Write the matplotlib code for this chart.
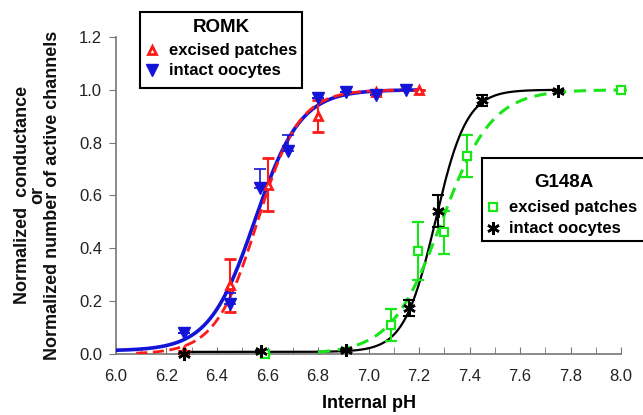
import numpy as np
import matplotlib
matplotlib.use("Agg")
import matplotlib.pyplot as plt
from matplotlib.lines import Line2D
from matplotlib.patches import Rectangle

plt.rcParams['font.family'] = ['Liberation Sans', 'DejaVu Sans']

# ROMK, excised patches (red open triangles)
romk_ex_ph = [6.27, 6.45, 6.60, 6.80, 7.03, 7.20]
romk_ex_y = [0.01, 0.26, 0.64, 0.90, 0.99, 1.00]
romk_ex_err = [0.0, 0.10, 0.10, 0.06, 0.0, 0.0]

# ROMK, intact oocytes (blue filled triangles), error bars only upward
romk_in_ph = [6.27, 6.45, 6.57, 6.68, 6.80, 6.91, 7.03, 7.15]
romk_in_y = [0.08, 0.19, 0.63, 0.77, 0.97, 0.99, 0.98, 1.00]
romk_in_err = [0.0, 0.04, 0.07, 0.06, 0.0, 0.0, 0.0, 0.0]

# G148A, excised patches (green open squares)
g_ex_ph = [6.59, 7.09, 7.195, 7.30, 7.39, 8.00]
g_ex_y = [0.0, 0.11, 0.39, 0.46, 0.75, 1.00]
g_ex_err = [0.0, 0.06, 0.11, 0.08, 0.08, 0.0]

# G148A, intact oocytes (black asterisks)
g_in_ph = [6.27, 6.575, 6.91, 7.16, 7.275, 7.45, 7.75]
g_in_y = [0.0, 0.01, 0.015, 0.175, 0.54, 0.96, 0.995]
g_in_err = [0.0, 0.0, 0.0, 0.03, 0.06, 0.02, 0.0]

# Hill fits: (pK, n, baseline, pH start, pH end)
fit_romk_in = (6.55, 4.8, 0.012, 6.0, 7.2)
fit_romk_ex = (6.56, 5.2, 0.0, 6.08, 7.2)
fit_g_in = (7.265, 7.0, 0.008, 6.27, 7.75)
fit_g_ex = (7.289, 4.35, 0.0, 6.8, 8.0)

legend_labels = ["excised patches", "intact oocytes"]


def hill(p):
    pk, n, b, x0, x1 = p
    x = np.linspace(x0, x1, 300)
    return x, b + (1 - b) / (1 + 10 ** (n * (pk - x)))


W, H = 643, 415
fig = plt.figure(figsize=(6.43, 4.15), dpi=100)
ax = fig.add_axes([0.1804, 0.147, 0.7854, 0.764])

red = '#ff1a1a'
blue = '#1414d8'
green = '#19e619'

x, y = hill(fit_romk_in)
ax.plot(x, y, color=blue, lw=2.6, zorder=3)
x, y = hill(fit_romk_ex)
ax.plot(x, y, color=red, lw=2, ls=(0, (4, 2)), zorder=4)
x, y = hill(fit_g_in)
ax.plot(x, y, color='black', lw=1.6, zorder=3)
x, y = hill(fit_g_ex)
ax.plot(x, y, color=green, lw=2.2, ls=(0, (4, 2.5)), zorder=3)

ax.errorbar(romk_ex_ph, romk_ex_y, yerr=romk_ex_err, fmt='^', color=red, mfc='white',
            mec=red, mew=2, ms=6, capsize=4, elinewidth=1.5, capthick=1.5, zorder=5, clip_on=False)
ax.errorbar(romk_in_ph, romk_in_y, yerr=[np.zeros(len(romk_in_err)), romk_in_err], fmt='v',
            color=blue, ms=8, capsize=4, elinewidth=1.2, capthick=1.2, zorder=5, clip_on=False)
ax.errorbar(g_ex_ph, g_ex_y, yerr=g_ex_err, fmt='s', color=green, mfc='white', mec=green,
            mew=1.6, ms=6, capsize=4, elinewidth=1.5, capthick=1.5, zorder=5, clip_on=False)
ax.errorbar(g_in_ph, g_in_y, yerr=g_in_err, fmt='none', ecolor='black', capsize=4,
            elinewidth=1.5, capthick=1.5, zorder=5, clip_on=False)
ax.plot(g_in_ph, g_in_y, ls='none', marker=(6, 2, 0), color='black', ms=9, mew=1.8,
        zorder=6, clip_on=False)

ax.set_xlim(6.0, 8.0)
ax.set_ylim(0, 1.2)
ax.set_xticks(np.arange(6.0, 8.01, 0.2))
ax.set_xticks(np.arange(6.0, 8.01, 0.1), minor=True)
ax.set_xticklabels([f"{v:.1f}" for v in np.arange(6.0, 8.01, 0.2)])
ax.set_yticks(np.arange(0, 1.21, 0.2))
ax.set_yticklabels([f"{v:.1f}" for v in np.arange(0, 1.21, 0.2)])
ax.tick_params(axis='x', which='both', direction='in', length=5, color='#777777',
               labelsize=12, labelcolor='#222222', pad=11)
ax.tick_params(axis='y', direction='out', length=5, color='#777777',
               labelsize=12, labelcolor='#222222', pad=5)

for s in ['top', 'right']:
    ax.spines[s].set_visible(False)
for s in ['left', 'bottom']:
    ax.spines[s].set_color('#777777')
    ax.spines[s].set_linewidth(1.2)

ax.set_xlabel("Internal pH", fontsize=13, fontweight='bold', labelpad=8)
fig.text(0.058, 0.53, "Normalized  conductance\nor\nNormalized number of active channels",
         rotation=90, ha='center', va='center', fontsize=13, fontweight='bold',
         linespacing=0.85, color='#111111')


# legend boxes drawn in pixel positions of the figure
def fx(px):
    return px / W


def fy(py):
    return 1 - py / H


def legend_box(x0, y0, x1, y1, title, tx, ty, rows, text_x):
    fig.patches.append(Rectangle((fx(x0), fy(y1)), fx(x1) - fx(x0), fy(y0) - fy(y1),
                                 transform=fig.transFigure, facecolor='white',
                                 edgecolor='black', lw=1.5, zorder=10))
    fig.text(fx(tx), fy(ty), title, ha='center', va='center', fontsize=13.5,
             fontweight='bold', zorder=11)
    for (mx, my, style), label in zip(rows, legend_labels):
        fig.add_artist(Line2D([fx(mx)], [fy(my)], transform=fig.transFigure, ls='none',
                              zorder=11, **style))
        fig.text(fx(text_x), fy(my), label, ha='left', va='center', fontsize=12,
                 fontweight='bold', zorder=11)


legend_box(140, 12, 302, 88, "ROMK", 221, 28,
           [(152, 50, dict(marker='^', mfc='white', mec=red, mew=2, ms=6)),
            (152, 70, dict(marker='v', color=blue, ms=8))], 169)
legend_box(482, 158, 660, 241, "G148A", 564, 182,
           [(493, 207, dict(marker='s', mfc='white', mec=green, mew=1.6, ms=6)),
            (493, 228, dict(marker=(6, 2, 0), color='black', ms=9, mew=1.8))], 509)

fig.savefig("out.png", dpi=100)
